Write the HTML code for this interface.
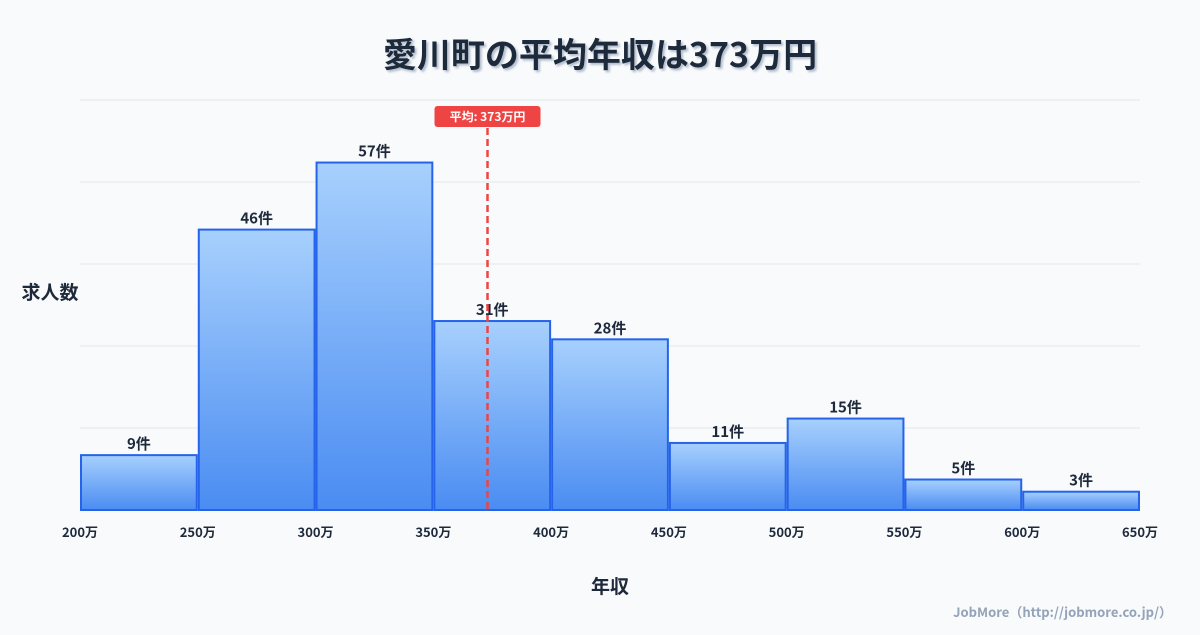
<!DOCTYPE html>
<html><head><meta charset="utf-8"><style>
body{margin:0;background:#f8fafc;font-family:"Noto Sans CJK JP","Liberation Sans",sans-serif;}
svg text{font-family:"Noto Sans CJK JP","Liberation Sans",sans-serif;}
</style></head><body>
<svg id="c" width="1200" height="630" viewBox="0 0 1200 630">
<defs>
<linearGradient id="g" x1="0" y1="0" x2="0" y2="1"><stop offset="0" stop-color="#a7d0fd"/><stop offset="1" stop-color="#4a8cf2"/></linearGradient>
<filter id="sh"><feDropShadow dx="2" dy="2" stdDeviation="1" flood-color="#94a3b8" flood-opacity="0.7"/></filter>
</defs>
<rect width="1200" height="630" fill="#f8fafc"/>
<text x="600" y="67" text-anchor="middle" font-size="34" font-weight="bold" fill="#1e293b" filter="url(#sh)">愛川町の平均年収は373万円</text>
<g id="grid"></g><g id="bars"></g><g id="xt"></g><g id="mean"></g>
<text x="50" y="299" text-anchor="middle" font-size="19" font-weight="bold" fill="#1e293b">求人数</text>
<text x="610" y="593" text-anchor="middle" font-size="19" font-weight="bold" fill="#1e293b">年収</text>
<text x="1172" y="617" text-anchor="end" font-size="13" font-weight="bold" fill="#94a3b8">JobMore（http://jobmore.co.jp/）</text>
</svg>
<script>
const binStarts=[200,250,300,350,400,450,500,550,600];
const counts=[9,46,57,31,28,11,15,5,3];
const xTicks=[200,250,300,350,400,450,500,550,600,650];
const meanValue=373;
const NS="http://www.w3.org/2000/svg";
const X0=80,X1=1140,Y0=510,Y1=100;
const ymax=Math.max(...counts)*1.18;
const xs=v=>X0+(v-200)/450*(X1-X0);
const ys=v=>Y0-v/ymax*(Y0-Y1);
function mk(t,a,p){const e=document.createElementNS(NS,t);for(const k in a)e.setAttribute(k,a[k]);p.appendChild(e);return e;}
const grid=document.getElementById('grid');
for(let i=0;i<=5;i++){const y=Y0-(Y0-Y1)*i/5;
const l=mk('line',{x1:X0,x2:X1,y1:y,y2:y,stroke:'#e2e8f0','stroke-width':1},grid);

}
const bars=document.getElementById('bars');
binStarts.forEach((b,i)=>{
const x=xs(b)+1,w=xs(b+50)-xs(b)-2,y=ys(counts[i]);
const r=mk('rect',{x:x,y:y,width:w,height:Y0-y,fill:'url(#g)',stroke:'#2563eb','stroke-width':2},bars);


const t=mk('text',{x:x+w/2,y:y-6,'text-anchor':'middle','font-size':15,'font-weight':'bold',fill:'#1e293b'},bars);
t.textContent=counts[i]+'件';


});
const xt=document.getElementById('xt');
xTicks.forEach(v=>{const t=mk('text',{x:xs(v),y:537,'text-anchor':'middle','font-size':13,'font-weight':'bold',fill:'#1e293b'},xt);
t.textContent=v+'万';

});
const m=document.getElementById('mean');const mx=xs(meanValue);
const ml=mk('line',{x1:mx,x2:mx,y1:128,y2:Y0,stroke:'#ef4444','stroke-width':2.5,'stroke-dasharray':'7,4'},m);


const mr=mk('rect',{x:mx-53,y:106,width:106,height:21,rx:3,fill:'#ef4444'},m);


const mt=mk('text',{x:mx,y:121,'text-anchor':'middle','font-size':12,'font-weight':'bold',fill:'#fff'},m);
mt.textContent='平均: '+meanValue+'万円';


</script>
</body></html>
